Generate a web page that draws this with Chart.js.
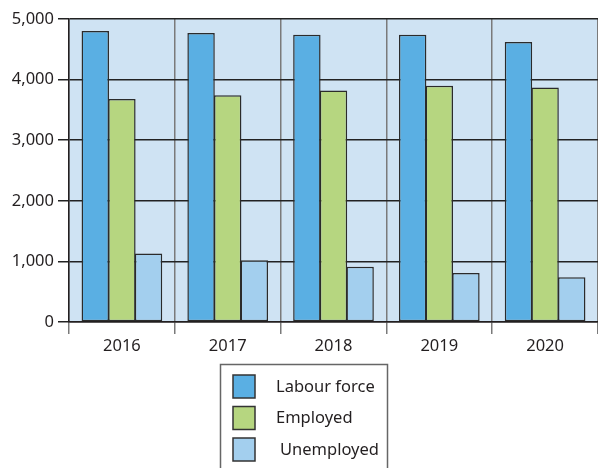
<!DOCTYPE html>
<html>
<head>
<meta charset="utf-8">
<script src="https://cdn.jsdelivr.net/npm/chart.js@4"></script>
<style>
  html, body { margin: 0; padding: 0; background: #ffffff; }
  #wrap { width: 598px; height: 468px; }
</style>
</head>
<body>
<div id="wrap"><canvas id="chart" width="598" height="468"></canvas></div>
<script>
const years = ["2016", "2017", "2018", "2019", "2020"];
const labourForce = [4800, 4770, 4740, 4740, 4620];
const employed = [3680, 3740, 3820, 3900, 3870];
const unemployed = [1130, 1020, 910, 810, 740];
const seriesNames = ["Labour force", "Employed", "Unemployed"];

const colors = {
  labour: "#5aafe3",
  employed: "#b6d680",
  unemployed: "#a3cfee",
  plot: "#cfe3f3",
  ink: "#231f20",
};
const font = "'Noto Sans', 'Open Sans', sans-serif";

// fond bleu clair de la zone de tracé
const plotBackground = {
  id: "plotBackground",
  beforeDraw(chart) {
    const { ctx, chartArea: a } = chart;
    ctx.save();
    ctx.fillStyle = colors.plot;
    ctx.fillRect(a.left, a.top, a.right - a.left, a.bottom - a.top);
    ctx.restore();
  },
};

// légende encadrée sous le graphique
const boxLegend = {
  id: "boxLegend",
  afterDraw(chart) {
    const { ctx } = chart;
    ctx.save();
    ctx.strokeStyle = "#666666";
    ctx.lineWidth = 1.5;
    ctx.strokeRect(220.5, 364.5, 167, 120);
    chart.data.datasets.forEach((ds, i) => {
      const y = 375 + i * 31.5;
      ctx.fillStyle = ds.backgroundColor;
      ctx.fillRect(233, y, 22, 23);
      ctx.strokeStyle = "#333333";
      ctx.lineWidth = 1.5;
      ctx.strokeRect(233, y, 22, 23);
      ctx.fillStyle = colors.ink;
      ctx.font = "16.5px " + font;
      ctx.textBaseline = "middle";
      ctx.fillText(ds.label, i === 2 ? 280 : 276, y + 12);
    });
    ctx.restore();
  },
};

const makeSet = (label, data, color) => ({
  label: label,
  data: data,
  backgroundColor: color,
  borderColor: "#2b2b2b",
  borderWidth: 1.5,
  borderSkipped: false,
  categoryPercentage: 0.755,
  barPercentage: 1.03,
});

new Chart(document.getElementById("chart"), {
  type: "bar",
  data: {
    labels: years,
    datasets: [
      makeSet(seriesNames[0], labourForce, colors.labour),
      makeSet(seriesNames[1], employed, colors.employed),
      makeSet(seriesNames[2], unemployed, colors.unemployed),
    ],
  },
  options: {
    responsive: false,
    animation: false,
    layout: { padding: { top: 19, right: 0, bottom: 0, left: 0 } },
    plugins: {
      legend: { display: false },
      tooltip: { enabled: false },
    },
    scales: {
      x: {
        offset: true,
        grid: {
          offset: true,
          color: "#7a7a7a",
          lineWidth: 1.5,
          tickLength: 12,
        },
        border: { color: colors.ink, width: 1.5 },
        ticks: {
          color: colors.ink,
          font: { family: font, size: 16.5 },
          padding: 2,
        },
        afterFit(scale) {
          scale.height = 146;
        },
      },
      y: {
        min: 0,
        max: 5000,
        ticks: {
          stepSize: 1000,
          color: colors.ink,
          font: { family: font, size: 16.5 },
          padding: 4,
          callback: (v) => v.toLocaleString("en-US"),
        },
        grid: {
          color: "#222222",
          lineWidth: 1.5,
          tickLength: 11,
        },
        border: { color: colors.ink, width: 1.5 },
        afterFit(scale) {
          scale.width = 69;
        },
      },
    },
  },
  plugins: [plotBackground, boxLegend],
});
</script>
</body>
</html>
